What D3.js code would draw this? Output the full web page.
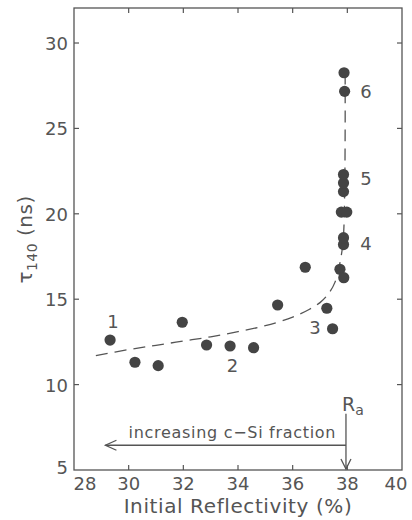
<!DOCTYPE html>
<html>
<head>
<meta charset="utf-8">
<script src="https://cdn.jsdelivr.net/npm/d3@7"></script>
<style>
  body { margin: 0; background: #fff; }
  svg text { font-family: "DejaVu Sans", sans-serif; fill: #555; }
</style>
</head>
<body>
<div id="chart"></div>
<script>
// measured points: initial reflectivity (%) vs tau_140 (ns)
var reflectivity = [29.32, 30.23, 31.08, 31.96, 32.85, 33.71, 34.57, 35.45, 36.46, 37.25, 37.46, 37.73, 37.87,
                    37.86, 37.86, 37.78, 37.98, 37.86, 37.86, 37.86, 37.90, 37.88]
var tau = [12.61, 11.31, 11.11, 13.65, 12.32, 12.26, 12.16, 14.66, 16.87, 14.47, 13.27, 16.75, 16.26,
           18.2, 18.6, 20.1, 20.1, 21.3, 21.8, 22.3, 27.17, 28.26]

// dashed guide curve
var curveX = [28.8, 30, 31, 32, 33, 34, 35, 36, 36.6, 37.0, 37.3, 37.55, 37.75, 37.85, 37.9, 37.92, 37.92]
var curveY = [11.7, 12.05, 12.3, 12.55, 12.8, 13.1, 13.45, 13.95, 14.4, 14.8, 15.3, 16.0, 17.3, 18.5, 21, 25, 28.3]

// numbered sample labels
var labelText = ['1', '2', '3', '4', '5', '6']
var labelX = [29.43, 33.8, 36.82, 38.68, 38.68, 38.68]
var labelY = [13.72, 11.15, 13.37, 18.29, 22.1, 27.19]

var xTicks = [28, 30, 32, 34, 36, 38, 40]
var yTicks = [5, 10, 15, 20, 25, 30]

var W = 412, H = 520
var margin = {left: 74, top: 8, right: 10, bottom: 50}

var svg = d3.select('#chart').append('svg')
    .attr('width', W)
    .attr('height', H)

var x = d3.scaleLinear().domain([28, 40]).range([margin.left, W - margin.right])
var y = d3.scaleLinear().domain([5, 32.05]).range([H - margin.bottom, margin.top])

var ink = '#555'

// frame
svg.append('rect')
    .attr('x', x(28)).attr('y', y(32.05))
    .attr('width', x(40) - x(28)).attr('height', y(5) - y(32.05))
    .attr('fill', 'none').attr('stroke', ink).attr('stroke-width', 1.3)

// inward ticks on all four sides
var tl = 5
svg.append('g').selectAll('line').data(xTicks.slice(1, -1)).join('line')
    .attr('x1', d => x(d)).attr('x2', d => x(d))
    .attr('y1', y(5)).attr('y2', y(5) - tl)
    .attr('stroke', ink).attr('stroke-width', 1.2)
svg.append('g').selectAll('line').data(xTicks.slice(1, -1)).join('line')
    .attr('x1', d => x(d)).attr('x2', d => x(d))
    .attr('y1', y(32.05)).attr('y2', y(32.05) + tl)
    .attr('stroke', ink).attr('stroke-width', 1.2)
svg.append('g').selectAll('line').data(yTicks.slice(1)).join('line')
    .attr('x1', x(28)).attr('x2', x(28) + tl)
    .attr('y1', d => y(d)).attr('y2', d => y(d))
    .attr('stroke', ink).attr('stroke-width', 1.2)
svg.append('g').selectAll('line').data(yTicks.slice(1)).join('line')
    .attr('x1', x(40)).attr('x2', x(40) - tl)
    .attr('y1', d => y(d)).attr('y2', d => y(d))
    .attr('stroke', ink).attr('stroke-width', 1.2)

// tick labels (end labels pushed inward like the original)
svg.append('g').selectAll('text').data(xTicks).join('text')
    .attr('x', d => x(d) + (d == 28 ? 11 : d == 40 ? -6 : 0)).attr('y', y(5) + 20)
    .attr('text-anchor', 'middle')
    .style('font-size', '18px')
    .text(d => d)
svg.append('g').selectAll('text').data(yTicks).join('text')
    .attr('x', x(28) - 6).attr('y', d => y(d) + (d == 5 ? 4 : 7))
    .attr('text-anchor', 'end')
    .style('font-size', '18px')
    .text(d => d)

// axis titles
svg.append('text')
    .attr('x', (x(28) + x(40)) / 2).attr('y', H - 7)
    .attr('text-anchor', 'middle')
    .style('font-size', '20px')
    .style('letter-spacing', '0.6px')
    .text('Initial Reflectivity (%)')

var yl = svg.append('text')
    .attr('transform', 'translate(32,' + y(18.5) + ') rotate(-90)')
    .attr('text-anchor', 'middle')
    .style('font-size', '20px')
    .style('letter-spacing', '0.5px')
yl.append('tspan').text('τ')
yl.append('tspan').attr('dy', 5).style('font-size', '14px').text('140')
yl.append('tspan').attr('dy', -5).text(' (ns)')

// dashed guide
var lineData = curveX.map((d, i) => [d, curveY[i]])
svg.append('path')
    .datum(lineData)
    .attr('d', d3.line().x(d => x(d[0])).y(d => y(d[1])).curve(d3.curveCatmullRom.alpha(0.5)))
    .attr('fill', 'none').attr('stroke', ink).attr('stroke-width', 1.3)
    .attr('stroke-dasharray', '12,7')

// points
svg.append('g').selectAll('circle').data(reflectivity).join('circle')
    .attr('cx', d => x(d))
    .attr('cy', (d, i) => y(tau[i]))
    .attr('r', 5.6)
    .attr('fill', '#444')

// sample numbers
svg.append('g').selectAll('text').data(labelText).join('text')
    .attr('x', (d, i) => x(labelX[i]))
    .attr('y', (d, i) => y(labelY[i]) + 7)
    .attr('text-anchor', 'middle')
    .style('font-size', '18px')
    .text(d => d)

// R_a marker and c-Si arrow
var ra = 37.95
svg.append('line')
    .attr('x1', x(ra)).attr('x2', x(ra))
    .attr('y1', y(8.3)).attr('y2', y(5) - 1)
    .attr('stroke', ink).attr('stroke-width', 1.3)
svg.append('path')
    .attr('d', 'M' + (x(ra) - 5) + ',' + (y(5) - 11) + 'L' + x(ra) + ',' + (y(5) - 1) + 'L' + (x(ra) + 5) + ',' + (y(5) - 11))
    .attr('fill', 'none').attr('stroke', ink).attr('stroke-width', 1.3)
svg.append('line')
    .attr('x1', x(ra)).attr('x2', x(29.15))
    .attr('y1', y(6.45)).attr('y2', y(6.45))
    .attr('stroke', ink).attr('stroke-width', 1.3)
svg.append('path')
    .attr('d', 'M' + (x(29.15) + 11) + ',' + (y(6.45) - 5) + 'L' + x(29.15) + ',' + y(6.45) + 'L' + (x(29.15) + 11) + ',' + (y(6.45) + 5))
    .attr('fill', 'none').attr('stroke', ink).attr('stroke-width', 1.3)

svg.append('text')
    .attr('x', (x(29.2) + x(ra)) / 2 + 6).attr('y', y(6.45) - 7)
    .attr('text-anchor', 'middle')
    .style('font-size', '16px')
    .style('letter-spacing', '0.7px')
    .text('increasing c\u2212Si fraction')

var rt = svg.append('text')
    .attr('x', x(ra) - 4).attr('y', y(8.45))
    .style('font-size', '19px')
rt.append('tspan').text('R')
rt.append('tspan').attr('dy', 4).style('font-size', '14px').text('a')
</script>
</body>
</html>
